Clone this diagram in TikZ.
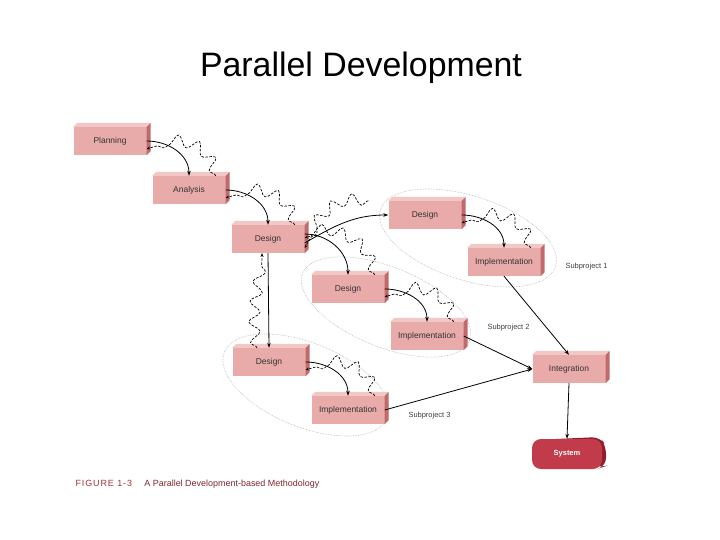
\documentclass[tikz,border=0pt]{standalone}
\usepackage{fontspec}
\setmainfont{Liberation Sans}
\usetikzlibrary{decorations.pathmorphing,arrows.meta}
\definecolor{boxfill}{HTML}{E9ABAA}
\definecolor{boxtop}{HTML}{F2C8C6}
\definecolor{boxside}{HTML}{C06A6C}
\definecolor{sysfill}{HTML}{C23B4A}
\definecolor{sysside}{HTML}{8E1E2C}
\definecolor{capred}{HTML}{A3303A}
\tikzset{
  bx/.style={fill=boxfill,minimum width=73bp,minimum height=28bp,inner sep=0pt,font=\fontsize{8.5}{9}\selectfont,text=black!80},
  flow/.style={-{Stealth[length=5bp,width=3.5bp]},line width=0.8bp},
  back/.style={dash pattern=on 2.5bp off 1.5bp,line width=0.7bp,decorate,decoration={snake,segment length=20bp,amplitude=5.5bp,post length=4bp},-{Stealth[length=3.5bp,width=3bp]}},
  grp/.style={draw=gray!60,densely dotted,line width=0.6bp},
  lbl/.style={font=\fontsize{7.5}{8}\selectfont,text=black!75},
}
\begin{document}
\begin{tikzpicture}[x=1bp,y=-1bp]
\useasboundingbox (0,0) rectangle (720,540);
\node[font=\fontsize{34}{38}\selectfont] (title) at (361,68) {Parallel Development};
% groups
\draw[grp,rotate around={-18:(468,238)}] (468,238) ellipse (92 and 42);
\draw[grp,rotate around={-22:(386,307)}] (386,307) ellipse (90 and 40);
\draw[grp,rotate around={-22:(306,385)}] (306,385) ellipse (88 and 42);
% boxes
\node[bx] (plan) at (110,141) {Planning};
\node[bx] (ana) at (189,190) {Analysis};
\node[bx] (des) at (268,239) {Design};
\node[bx] (des1) at (425,215) {Design};
\node[bx] (imp1) at (504,262) {Implementation};
\node[bx] (des2) at (348,289) {Design};
\node[bx] (imp2) at (427,336) {Implementation};
\node[bx] (des3) at (269,362) {Design};
\node[bx] (imp3) at (348,410) {Implementation};
\node[bx] (integ) at (569,369) {Integration};
\foreach \n in {plan,ana,des,des1,imp1,des2,imp2,des3,imp3,integ}{
  \fill[boxtop] (\n.north west) -- ++(4,-4) -- ([shift={(4,-4)}]\n.north east) -- (\n.north east) -- cycle;
  \fill[boxside] (\n.north east) -- ++(4,-4) -- ([shift={(4,-4)}]\n.south east) -- (\n.south east) -- cycle;
}
\fill[sysside,rounded corners=8bp] (534,440) -- (600,437) -- (606,446) -- (606,466) -- (600,468) -- cycle;
\node[fill=sysfill,rounded corners=9bp,minimum width=70bp,minimum height=30bp,text=white,font=\bfseries\fontsize{7.5}{8}\selectfont] (sys) at (567,454) {System};
% labels
\node[lbl,anchor=west] (s1) at (562,267) {Subproject 1};
\node[lbl,anchor=west] (s2) at (484,328) {Subproject 2};
\node[lbl,anchor=west] (s3) at (405,416) {Subproject 3};
\node[font=\fontsize{9}{10}\selectfont,text=capred,anchor=west] (cap) at (72,484) {\addfontfeature{LetterSpace=10}FIGURE 1-3\quad\ \textcolor{capred!80!black}{\addfontfeature{LetterSpace=0}A Parallel Development-based Methodology}};
% flows
\draw[flow] (plan.east) to[out=0,in=90] (ana.north);
\draw[flow] (ana.east) to[out=0,in=90] (des.north);
\draw[flow] ([yshift=-4]des.east) to[out=30,in=180] (des1.west);
\draw[flow] ([yshift=5]des.east) to[out=0,in=90] (des2.north);
\draw[flow] (des.south) -- (des3.north);
\draw[flow] (des1.east) to[out=0,in=90] (imp1.north);
\draw[flow] (des2.east) to[out=0,in=90] (imp2.north);
\draw[flow] (des3.east) to[out=0,in=90] (imp3.north);
\draw[flow] (imp1.south) -- (integ.north);
\draw[flow] (imp2.east) -- (integ.west);
\draw[flow] (imp3.east) -- (integ.west);
\draw[flow] (integ.south) -- (sys.north);
% feedback
\draw[back] ([xshift=-10]ana.north east) to[out=100,in=20] ([yshift=-8]plan.east);
\draw[back] ([xshift=-10]des.north east) to[out=100,in=20] ([yshift=-8]ana.east);
\draw[back] ([xshift=-20]des1.north west) to[out=170,in=60] ([yshift=-9]des.east);
\draw[back] ([xshift=-10]des2.north east) to[out=100,in=20] ([yshift=1]des.east);
\draw[back] ([xshift=-10]imp1.north east) to[out=100,in=20] ([yshift=-8]des1.east);
\draw[back] ([xshift=-10]imp2.north east) to[out=100,in=20] ([yshift=-8]des2.east);
\draw[back] ([xshift=-10]imp3.north east) to[out=100,in=20] ([yshift=-8]des3.east);
\draw[back] ([xshift=-12]des3.north) to[out=100,in=-90] ([xshift=-6]des.south);
\end{tikzpicture}
\end{document}
